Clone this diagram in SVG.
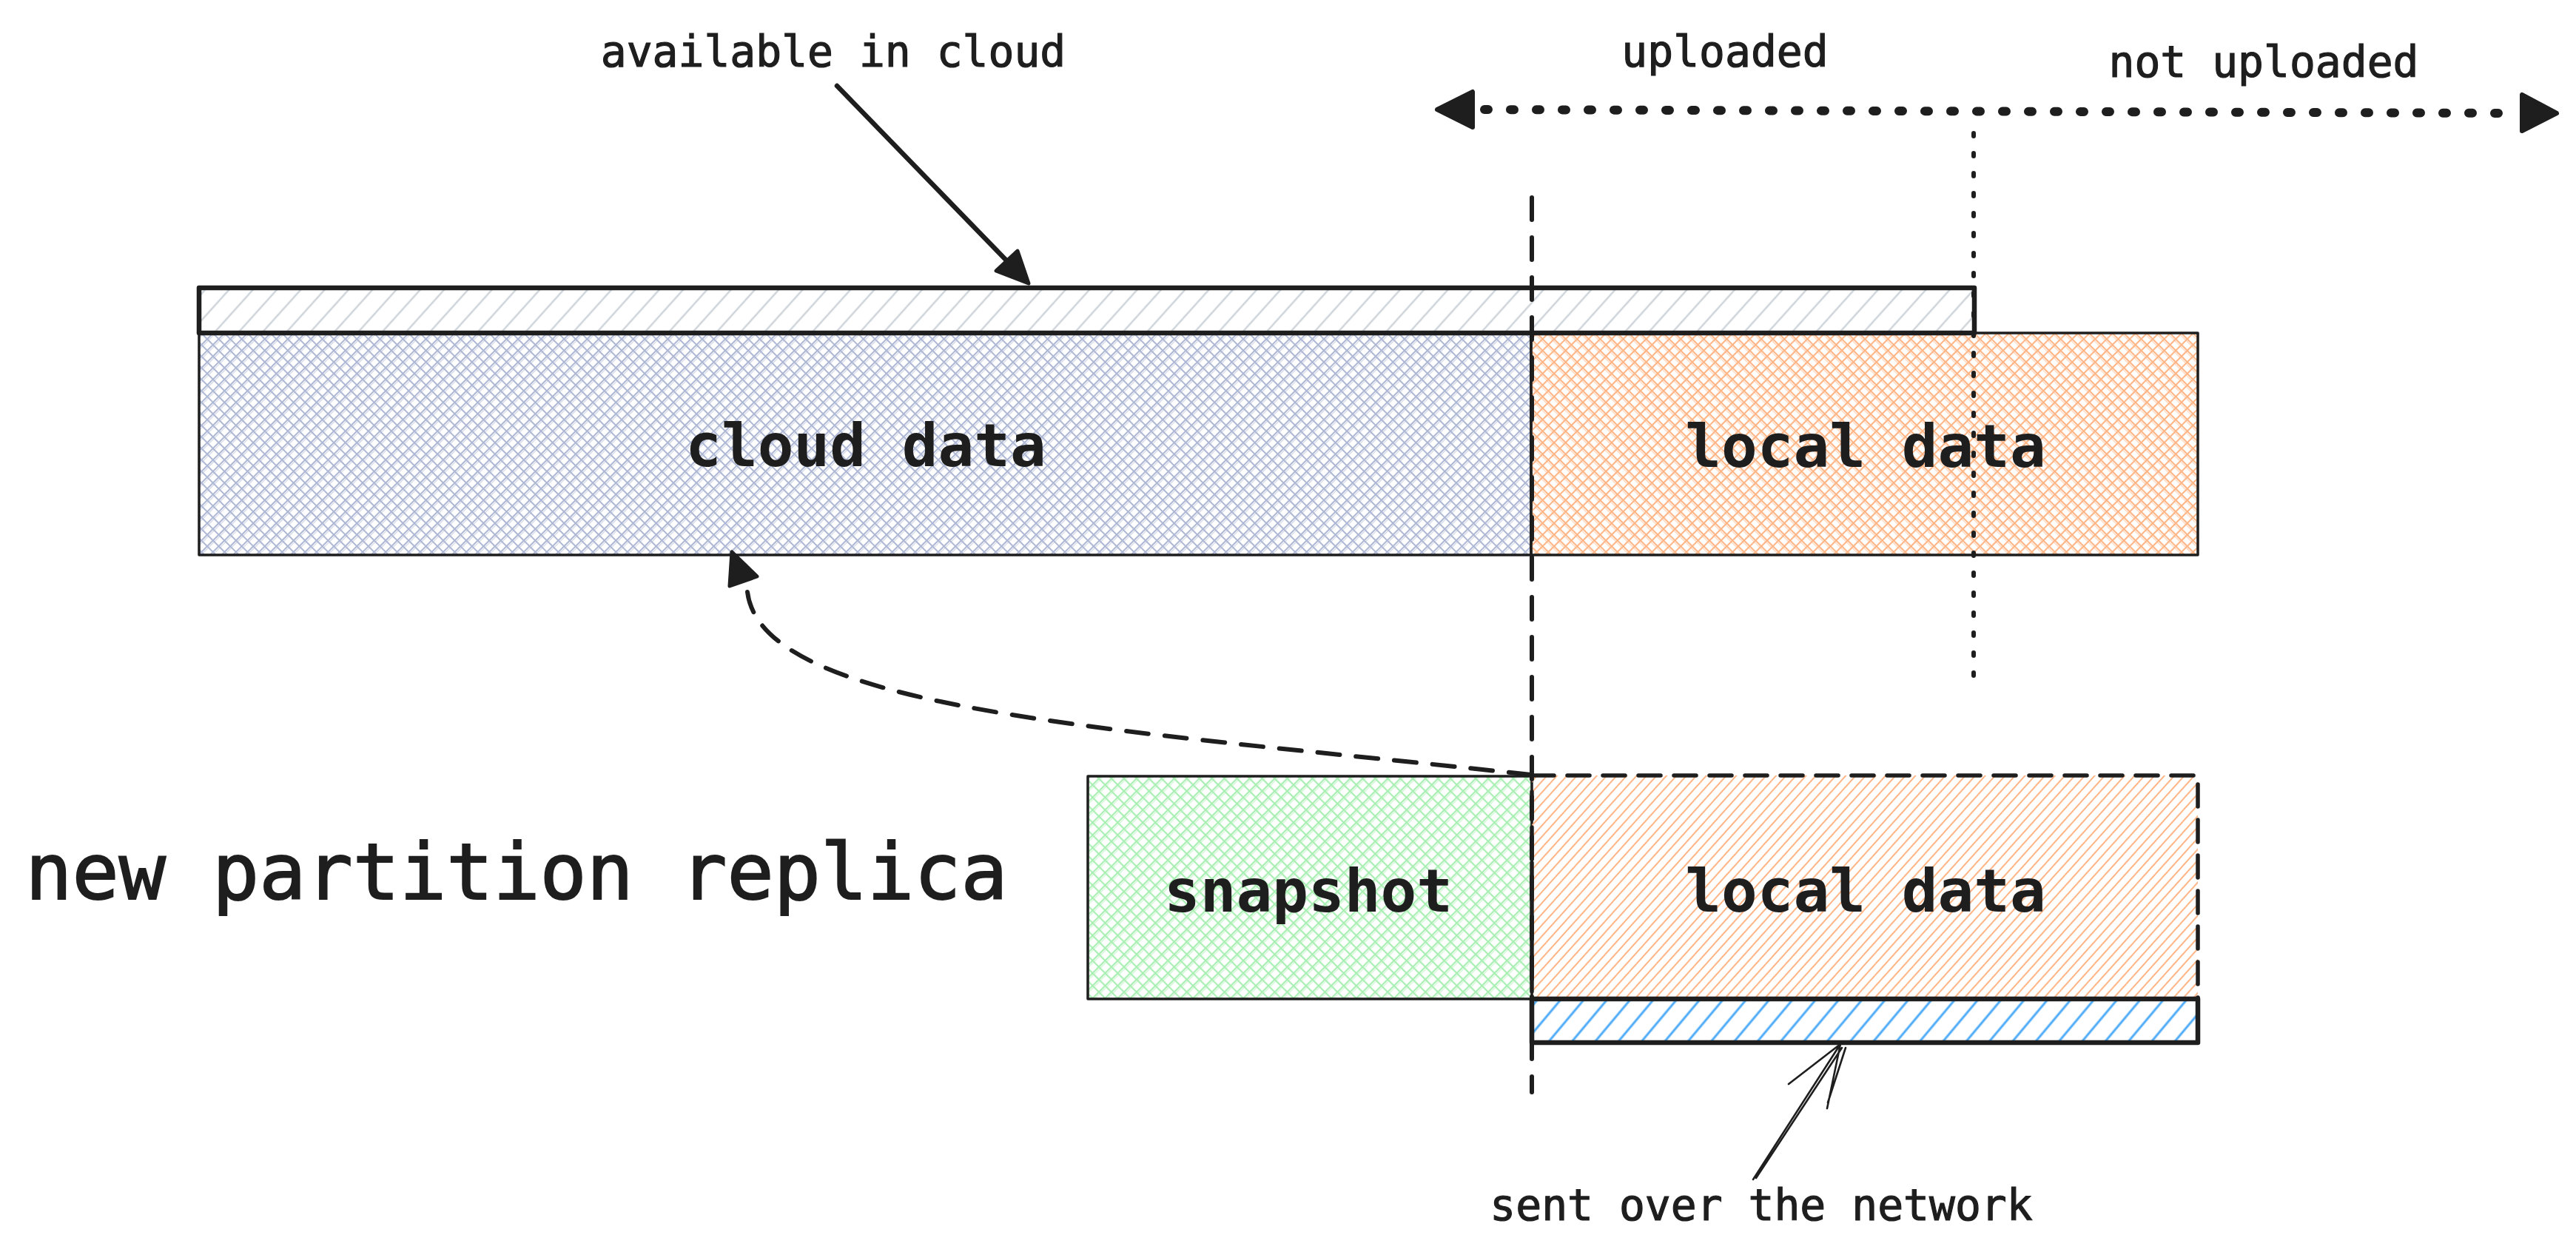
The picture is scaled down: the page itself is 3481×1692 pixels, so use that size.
<svg xmlns="http://www.w3.org/2000/svg" width="3481" height="1692" viewBox="0 0 3481 1692">
<style>
.t{font-family:"DejaVu Sans Mono","Liberation Mono",monospace;fill:#1e1e1e;text-anchor:middle;font-weight:bold}
.s{font-size:58px;font-weight:normal;stroke:#1e1e1e;stroke-width:1.2}
.m{font-size:81px}
.l{font-size:105px;font-weight:normal;stroke:#1e1e1e;stroke-width:2}
.ink{stroke:#1e1e1e;stroke-linecap:round;stroke-linejoin:round}
.ln{fill:none}
</style>
<defs>
<pattern id="hGrey" patternUnits="userSpaceOnUse" width="24" height="24" patternTransform="rotate(42)">
<line x1="12" y1="-2" x2="12" y2="26" stroke="#ced4da" stroke-width="2.5"/>
</pattern>
<pattern id="hBlue" patternUnits="userSpaceOnUse" width="24" height="24" patternTransform="rotate(40)">
<line x1="12" y1="-2" x2="12" y2="26" stroke="#4dabf7" stroke-width="3"/>
</pattern>
<pattern id="hOrange" patternUnits="userSpaceOnUse" width="10" height="10" patternTransform="rotate(42)">
<line x1="5" y1="-2" x2="5" y2="12" stroke="#ffb585" stroke-width="2"/>
</pattern>
<pattern id="xBlue" patternUnits="userSpaceOnUse" width="11" height="11" patternTransform="rotate(45)">
<line x1="5" y1="-1" x2="5" y2="12" stroke="#aeb8d4" stroke-width="2"/>
<line x1="-1" y1="5" x2="12" y2="5" stroke="#aeb8d4" stroke-width="2"/>
<line x1="7.5" y1="-1" x2="7.5" y2="12" stroke="#aeb8d4" stroke-width="1.2" opacity="0.6"/>
</pattern>
<pattern id="xOrange" patternUnits="userSpaceOnUse" width="11" height="11" patternTransform="rotate(45)">
<line x1="5" y1="-1" x2="5" y2="12" stroke="#ffb585" stroke-width="2.1"/>
<line x1="-1" y1="5" x2="12" y2="5" stroke="#ffb585" stroke-width="2.1"/>
<line x1="-1" y1="7.5" x2="12" y2="7.5" stroke="#ffb585" stroke-width="1.2" opacity="0.6"/>
</pattern>
<pattern id="xGreen" patternUnits="userSpaceOnUse" width="12" height="12" patternTransform="rotate(45)">
<line x1="6" y1="-1" x2="6" y2="13" stroke="#a9efb3" stroke-width="2.2"/>
<line x1="-1" y1="6" x2="13" y2="6" stroke="#a9efb3" stroke-width="2.2"/>
<line x1="8.5" y1="-1" x2="8.5" y2="13" stroke="#a9efb3" stroke-width="1.2" opacity="0.6"/>
</pattern>
</defs>
<rect width="3481" height="1692" fill="#ffffff"/>

<g id="cloud-data">
<rect x="269" y="450" width="1800" height="300" fill="url(#xBlue)" class="ink" stroke-width="3.5"/>
<text class="t m" x="1170" y="630">cloud data</text>
</g>
<g id="local-data-top">
<rect x="2069" y="450" width="901" height="300" fill="url(#xOrange)" class="ink" stroke-width="3.5"/>
<text class="t m" x="2521" y="631">local data</text>
</g>
<g id="available-in-cloud-bar">
<rect x="269" y="389" width="2399" height="61" fill="url(#hGrey)" class="ink" stroke-width="6.5"/>
</g>
<g id="snapshot">
<rect x="1470" y="1049" width="600" height="301" fill="url(#xGreen)" class="ink" stroke-width="3.5"/>
<text class="t m" x="1768" y="1232">snapshot</text>
</g>
<g id="local-data-bottom">
<rect x="2070" y="1048" width="900" height="302" fill="url(#hOrange)" class="ink" stroke-width="5.5" stroke-dasharray="30 18"/>
<text class="t m" x="2521" y="1232">local data</text>
</g>
<g id="network-bar">
<rect x="2070" y="1350" width="900" height="59" fill="url(#hBlue)" class="ink" stroke-width="6.5"/>
</g>
<g id="labels">
<text class="t s" x="1126" y="90">available in cloud</text>
<text class="t s" x="2331" y="90">uploaded</text>
<text class="t s" x="3059" y="104">not uploaded</text>
<text class="t s" x="2380" y="1649">sent over the network</text>
<text class="t l" x="698" y="1215">new partition replica</text>
</g>

<g id="connectors">
<line class="ink ln" x1="2070" y1="267" x2="2070" y2="1476" stroke-width="6" stroke-dasharray="30 24" stroke-linecap="butt"/>
<line class="ink ln" x1="2667" y1="180" x2="2667" y2="930" stroke-width="6" stroke-dasharray="4 23"/>
<line class="ink ln" x1="2006" y1="148" x2="3396" y2="153" stroke-width="12" stroke-dasharray="5 30"/>
<polygon points="1942,148 1990,124 1990,172" class="ink" stroke-width="6" fill="#1e1e1e"/>
<polygon points="3455,153 3408,128 3408,177" class="ink" stroke-width="6" fill="#1e1e1e"/>
<line class="ink ln" x1="1131" y1="116" x2="1362" y2="354" stroke-width="6.5"/>
<polygon points="1390,383 1375,339 1346,366" class="ink" stroke-width="5" fill="#1e1e1e"/>
<path class="ink ln" d="M2069,1047 C1500,985 1030,960 1010,800" stroke-width="6" stroke-dasharray="30 22" stroke-linecap="butt"/>
<polygon points="989,746 986,792 1023,779" class="ink" stroke-width="5" fill="#1e1e1e"/>
<path class="ink ln" d="M2369,1594 L2487,1411 M2373,1592 L2489,1416 M2487,1411 L2417,1465 M2487,1411 L2469,1498 M2494,1416 L2470,1490" stroke-width="2.6"/>
</g>
</svg>
